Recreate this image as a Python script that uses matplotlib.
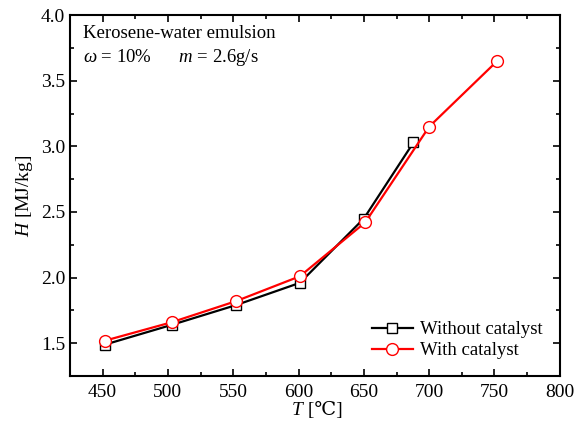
import matplotlib
matplotlib.use("Agg")
import matplotlib.pyplot as plt
from matplotlib.ticker import MultipleLocator

plt.rcParams['font.family'] = ['Liberation Serif', 'DejaVu Serif', 'DejaVu Sans']
plt.rcParams['mathtext.fontset'] = 'custom'
plt.rcParams['mathtext.rm'] = 'Liberation Serif'
plt.rcParams['mathtext.it'] = 'Liberation Serif:italic'

t_without = [452, 503, 552, 601, 650, 688]
h_without = [1.49, 1.64, 1.79, 1.96, 2.45, 3.03]
t_with = [452, 503, 552, 601, 651, 700, 752]
h_with = [1.52, 1.66, 1.82, 2.01, 2.42, 3.15, 3.65]

fig = plt.figure(figsize=(5.88, 4.22), dpi=100)
ax = fig.add_axes([0.119, 0.109, 0.833, 0.855])

ax.plot(t_without, h_without, color='black', lw=1.6, marker='s', ms=7,
        mfc='white', mec='black', mew=1.0, label='Without catalyst')
ax.plot(t_with, h_with, color='red', lw=1.6, marker='o', ms=8.5,
        mfc='white', mec='red', mew=1.0, label='With catalyst')

ax.set_xlim(425, 800)
ax.set_ylim(1.25, 4.0)
ax.xaxis.set_major_locator(MultipleLocator(50))
ax.xaxis.set_minor_locator(MultipleLocator(25))
ax.yaxis.set_major_locator(MultipleLocator(0.5))
ax.yaxis.set_minor_locator(MultipleLocator(0.25))
ax.tick_params(which='both', direction='in', top=True, right=True, labelsize=14, width=1.2)
ax.tick_params(which='major', length=5)
ax.tick_params(which='minor', length=3)
ax.tick_params(axis='x', pad=6)
for s in ax.spines.values():
    s.set_linewidth(1.5)

# x label: italic T followed by plain " [℃]" (mathtext has no ℃ glyph)
t_lab = ax.text(0.453, -0.072, 'T', style='italic', fontsize=14,
                transform=ax.transAxes, ha='left', va='top')
ax.annotate(' [℃]', xy=(1, 0), xycoords=t_lab, fontsize=14,
            ha='left', va='bottom')
ax.set_ylabel('$H$ [MJ/kg]', fontsize=14, labelpad=4)

ax.text(0.027, 0.95, 'Kerosene-water emulsion', transform=ax.transAxes,
        fontsize=13.5, va='center', ha='left')
ax.text(0.027, 0.884, r'$\omega$ = 10%      $m$ = 2.6g/s', transform=ax.transAxes,
        fontsize=13.5, va='center', ha='left')

ax.legend(loc='lower right', frameon=False, fontsize=13.5, handlelength=2.2,
          borderaxespad=0.5, labelspacing=0.2, handletextpad=0.4)

fig.savefig('out.png', dpi=100)
